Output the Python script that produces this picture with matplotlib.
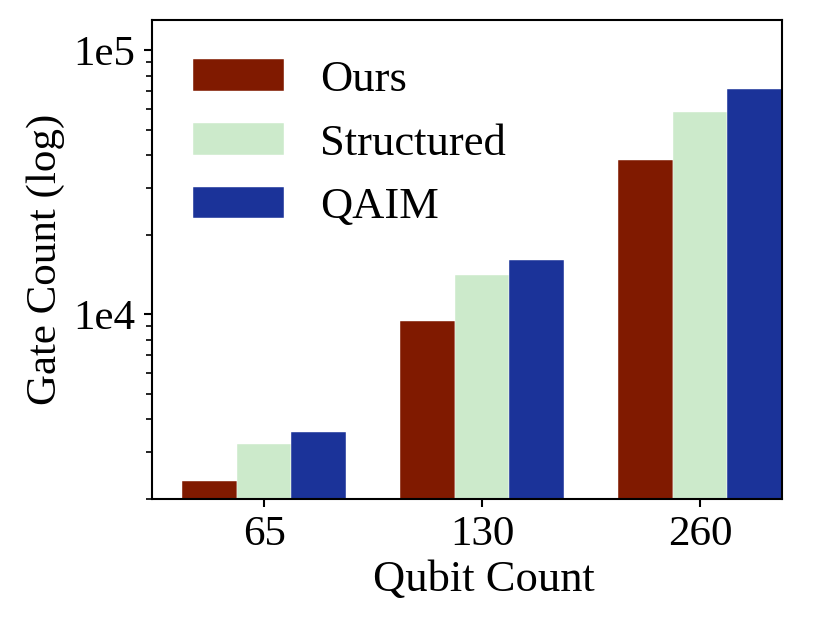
import numpy as np
import matplotlib
matplotlib.use('Agg')
import matplotlib.pyplot as plt

qubits = ['65', '130', '260']
ours = [2340, 9470, 38400]
structured = [3220, 14050, 58300]
qaim = [3600, 16060, 71100]

labels = ['Ours', 'Structured', 'QAIM']
colors = ['#801a00', '#cceacb', '#1b3399']

plt.rcParams['font.family'] = ['Liberation Serif', 'DejaVu Serif']
fs = 32

fig = plt.figure(figsize=(8.32, 6.3), dpi=100)
ax = fig.add_axes([0.1827, 0.208, 0.7573, 0.760])

x = np.arange(len(qubits))
w = 0.25
for i, (vals, lab, c) in enumerate(zip([ours, structured, qaim], labels, colors)):
    ax.bar(x + (i - 1) * w, vals, w, color=c, label=lab,
           edgecolor='white', linewidth=0.3)

ax.set_yscale('log')
ax.set_ylim(2000, 1.3e5)
ax.set_xlim(-0.514, 2.376)
ax.set_yticks([1e4, 1e5])
ax.set_yticklabels(['1e4', '1e5'])
ax.set_xticks(x)
ax.set_xticklabels(qubits)
ax.tick_params(axis='both', which='major', length=6, width=1.5, labelsize=31, pad=6)
ax.tick_params(axis='y', which='minor', length=4, width=1.2)
ax.yaxis.set_minor_formatter(matplotlib.ticker.NullFormatter())
for s in ax.spines.values():
    s.set_linewidth(1.5)

ax.set_xlabel('Qubit Count', fontsize=fs, labelpad=4)
ax.xaxis.label.set_x(0.527)
ax.set_ylabel('Gate Count (log)', fontsize=31, labelpad=6)

ax.legend(loc='upper left', frameon=False, fontsize=fs, handlelength=2.04,
          handleheight=0.71, labelspacing=0.53, handletextpad=0.82,
          borderpad=0.4, borderaxespad=0, bbox_to_anchor=(0.037, 0.955))

fig.savefig('out.png', dpi=100)
